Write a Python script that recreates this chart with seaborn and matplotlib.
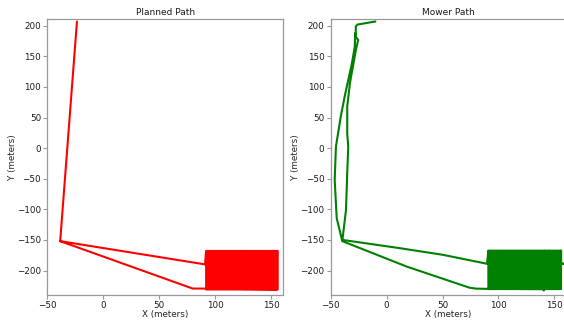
import matplotlib
matplotlib.use("Agg")
import matplotlib.pyplot as plt
import seaborn as sns
import pandas as pd

# planned path: approach leg, mowing strips, return leg
planned_in_x = [-23.5, -38.5, 91.0]
planned_in_y = [207.0, -152.0, -190.0]
planned_strip_x = [92, 93, 94, 95, 96, 97, 98, 99, 100, 101, 102, 103, 104,
                   105, 106, 107, 108, 109, 110, 111, 112, 113, 114, 115, 116,
                   117, 118, 119, 120, 121, 122, 123, 124, 125, 126, 127, 128,
                   129, 130, 131, 132, 133, 134, 135, 136, 137, 138, 139, 140,
                   141, 142, 143, 144, 145, 146, 147, 148, 149, 150, 151, 152,
                   153, 154, 155, 156]
planned_strip_top = -168.0
planned_strip_bottom = -231.0
planned_out_x = [90.5, 80.0, -38.5]
planned_out_y = [-229.5, -229.5, -152.0]

# mower (measured) path
mower_in_x = [-10.0, -26.0, -27.5, -27.7, -25.4, -27.5, -32.8, -35.2, -35.2,
              -34.3, -35.2, -36.3, -38.8, -39.5, 10.0, 50.5, 89.8]
mower_in_y = [207.0, 202.0, 199.0, 182.0, 177.0, 160.0, 106.0, 67.8, 24.0,
              2.5, -41.0, -101.0, -139.0, -150.0, -163.0, -174.4, -189.0]
mower_strip_x = [91, 92, 93, 94, 95, 96, 97, 98, 99, 100, 101, 102, 103, 104,
                 105, 106, 107, 108, 109, 110, 111, 112, 113, 114, 115, 116,
                 117, 118, 119, 120, 121, 122, 123, 124, 125, 126, 127, 128,
                 129, 130, 131, 132, 133, 134, 135.2, 136.4, 137, 138, 139,
                 140, 141.3, 142, 143, 144, 145.2, 146, 147, 148.3, 149, 150,
                 151, 152, 153, 154, 155, 156]
mower_strip_top = -167.5
mower_strip_bottom = -230.4
mower_out_x = [156.0, 158.5, 156.0, 141.0, 140.7, 139.5, 90.0, 80.0, 74.0,
               17.9, -39.6, -44.6, -46.4, -45.3, -41.0, -37.2, -31.3, -28.5,
               -28.0]
mower_out_y = [-189.0, -189.0, -189.0, -230.4, -232.6, -230.4, -230.0, -229.6,
               -228.0, -193.5, -152.0, -114.5, -52.0, 2.4, 51.4, 87.0, 136.0,
               165.0, 188.0]


def build_path(in_x, in_y, strips, top, bottom, out_x, out_y):
    xs, ys = list(in_x), list(in_y)
    for i, sx in enumerate(strips):
        if i % 2 == 0:
            xs += [sx, sx]
            ys += [top, bottom]
        else:
            xs += [sx, sx]
            ys += [bottom, top]
    xs += out_x
    ys += out_y
    return pd.DataFrame({"x": xs, "y": ys})


planned = build_path(planned_in_x, planned_in_y, planned_strip_x,
                     planned_strip_top, planned_strip_bottom,
                     planned_out_x, planned_out_y)
mower = build_path(mower_in_x, mower_in_y, mower_strip_x,
                   mower_strip_top, mower_strip_bottom,
                   mower_out_x, mower_out_y)

sns.set_style("ticks", {"axes.edgecolor": "0.6", "xtick.color": "0.6",
                        "ytick.color": "0.6", "text.color": "0.1"})
plt.rcParams["xtick.labelcolor"] = "0.1"
plt.rcParams["ytick.labelcolor"] = "0.1"
plt.rcParams["font.family"] = ["DejaVu Sans"]

fig = plt.figure(figsize=(5.64, 3.22), dpi=100)
ax1 = fig.add_axes([0.0839, 0.0839, 0.4184, 0.857])
ax2 = fig.add_axes([0.5863, 0.0839, 0.4184, 0.857])

panels = [(ax1, planned, "red", "Planned Path"),
          (ax2, mower, "green", "Mower Path")]
for ax, df, col, title in panels:
    sns.lineplot(data=df, x="x", y="y", sort=False, estimator=None,
                 color=col, lw=1.5, ax=ax)
    ax.set_xlim(-50, 161)
    ax.set_ylim(-240, 211)
    ax.set_xticks([-50, 0, 50, 100, 150])
    ax.set_yticks([-200, -150, -100, -50, 0, 50, 100, 150, 200])
    ax.tick_params(labelsize=6.3, length=3, width=0.8, pad=1.5)
    ax.set_title(title, fontsize=6.5, pad=3)
    ax.set_xlabel("X (meters)", fontsize=6.3, labelpad=0)
    ax.set_ylabel("Y (meters)", fontsize=6.3, labelpad=0)
    for s in ax.spines.values():
        s.set_linewidth(0.9)

fig.savefig("out.png", dpi=100)
